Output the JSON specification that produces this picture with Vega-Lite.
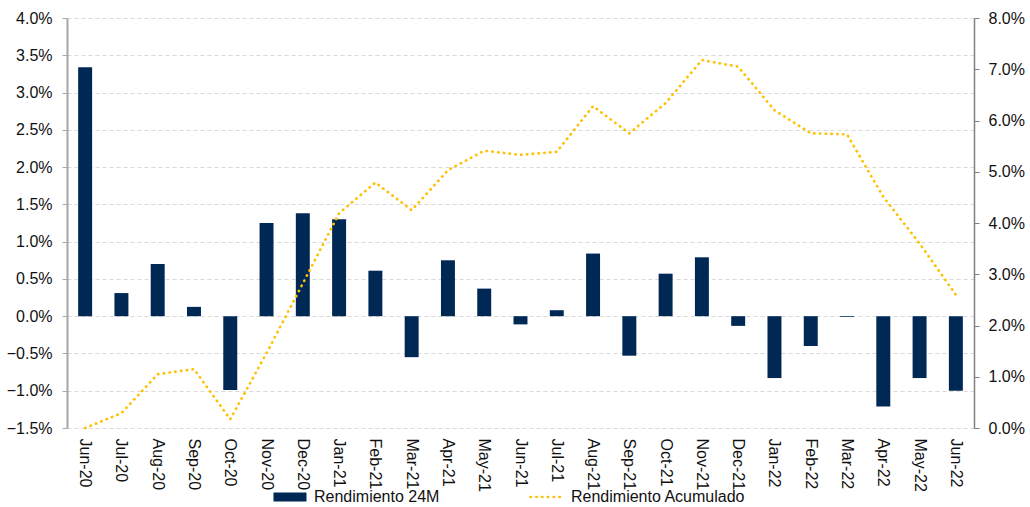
{
  "$schema": "https://vega.github.io/schema/vega-lite/v6.json",
  "width": 907,
  "height": 410,
  "autosize": {"type": "none"},
  "padding": {"left": 67, "top": 18, "right": 56, "bottom": 79},
  "background": "white",
  "config": {
    "font": "Liberation Sans",
    "view": {"stroke": null},
    "axis": {"labelFont": "Liberation Sans", "labelFontSize": 16, "labelColor": "#111111"}
  },
  "data": {
    "values": [
      {"m": "Jun-20", "r24": 0.0334, "acum": 0.0},
      {"m": "Jul-20", "r24": 0.0031, "acum": 0.0029},
      {"m": "Aug-20", "r24": 0.0070, "acum": 0.0105},
      {"m": "Sep-20", "r24": 0.00125, "acum": 0.0115},
      {"m": "Oct-20", "r24": -0.0099, "acum": 0.0017},
      {"m": "Nov-20", "r24": 0.0125, "acum": 0.0146},
      {"m": "Dec-20", "r24": 0.0138, "acum": 0.0282},
      {"m": "Jan-21", "r24": 0.0130, "acum": 0.0419},
      {"m": "Feb-21", "r24": 0.0061, "acum": 0.0479},
      {"m": "Mar-21", "r24": -0.0055, "acum": 0.0425},
      {"m": "Apr-21", "r24": 0.0075, "acum": 0.0503},
      {"m": "May-21", "r24": 0.0037, "acum": 0.0541},
      {"m": "Jun-21", "r24": -0.0011, "acum": 0.0533},
      {"m": "Jul-21", "r24": 0.0008, "acum": 0.0539},
      {"m": "Aug-21", "r24": 0.0084, "acum": 0.0628},
      {"m": "Sep-21", "r24": -0.0053, "acum": 0.0575},
      {"m": "Oct-21", "r24": 0.0057, "acum": 0.0634},
      {"m": "Nov-21", "r24": 0.0079, "acum": 0.0718},
      {"m": "Dec-21", "r24": -0.0013, "acum": 0.0705},
      {"m": "Jan-22", "r24": -0.0083, "acum": 0.0620},
      {"m": "Feb-22", "r24": -0.0040, "acum": 0.0575},
      {"m": "Mar-22", "r24": -0.0001, "acum": 0.0573},
      {"m": "Apr-22", "r24": -0.0121, "acum": 0.0451},
      {"m": "May-22", "r24": -0.0083, "acum": 0.0360},
      {"m": "Jun-22", "r24": -0.0100, "acum": 0.0260}
    ]
  },
  "encoding": {
    "x": {
      "field": "m",
      "type": "nominal",
      "sort": null,
      "title": null,
      "scale": {"paddingInner": 0.615, "paddingOuter": 0.3075},
      "axis": {"labelAngle": 90, "domain": false, "ticks": false, "labelPadding": 10, "grid": false, "labelBaseline": "middle", "labelAlign": "left"}
    }
  },
  "layer": [
    {
      "mark": {"type": "bar", "color": "#002855"},
      "encoding": {
        "y": {
          "field": "r24",
          "type": "quantitative",
          "title": null,
          "scale": {"domain": [-0.015, 0.04], "nice": false, "zero": false},
          "axis": {
            "orient": "left",
            "values": [-0.015, -0.01, -0.005, 0, 0.005, 0.01, 0.015, 0.02, 0.025, 0.03, 0.035, 0.04],
            "format": ".1%",
            "grid": true,
            "gridColor": "#D9D9D9",
            "gridDash": [4, 3],
            "gridWidth": 1,
            "domainColor": "#A6A6A6",
            "domainWidth": 2,
            "tickColor": "#A6A6A6",
            "tickSize": 5,
            "labelPadding": 10
          }
        },
        "color": {
          "datum": "Rendimiento 24M",
          "type": "nominal",
          "scale": {"domain": ["Rendimiento 24M", "Rendimiento Acumulado"], "range": ["#002855", "#FFC000"]},
          "legend": {
            "orient": "none",
            "legendX": 215,
            "legendY": 471,
            "direction": "horizontal",
            "title": null,
            "labelFontSize": 16,
            "labelFont": "Liberation Sans",
            "labelColor": "#111111",
            "symbolSize": 1089,
            "columnPadding": 85,
            "labelOffset": 10,
            "labelLimit": 300,
            "encode": {
              "labels": {"update": {"dx": {"value": 6}}},
              "symbols": {
                "update": {
                  "shape": {"signal": "datum.value === 'Rendimiento 24M' ? 'M-1,-0.27H1V0.27H-1Z' : 'stroke'"},
                  "fill": {"signal": "datum.value === 'Rendimiento 24M' ? '#002855' : 'transparent'"},
                  "stroke": {"signal": "datum.value === 'Rendimiento 24M' ? '#002855' : '#FFC000'"},
                  "strokeWidth": {"signal": "datum.value === 'Rendimiento 24M' ? 0 : 2.7"},
                  "strokeDash": {"signal": "datum.value === 'Rendimiento 24M' ? [1, 0] : [0.3, 5.5]"},
                  "strokeCap": {"value": "round"},
                  "opacity": {"value": 1}
                }
              }
            }
          }
        }
      }
    },
    {
      "mark": {"type": "line", "strokeWidth": 2.7, "strokeDash": [0.3, 5.5], "strokeCap": "round"},
      "encoding": {
        "y": {
          "field": "acum",
          "type": "quantitative",
          "title": null,
          "scale": {"domain": [0, 0.08], "nice": false, "zero": false},
          "axis": {
            "orient": "right",
            "values": [0, 0.01, 0.02, 0.03, 0.04, 0.05, 0.06, 0.07, 0.08],
            "format": ".1%",
            "grid": false,
            "domainColor": "#808080",
            "domainWidth": 1.5,
            "tickColor": "#808080",
            "tickSize": 5,
            "labelPadding": 9
          }
        },
        "color": {"datum": "Rendimiento Acumulado", "type": "nominal"}
      }
    }
  ],
  "resolve": {"scale": {"y": "independent"}}
}
